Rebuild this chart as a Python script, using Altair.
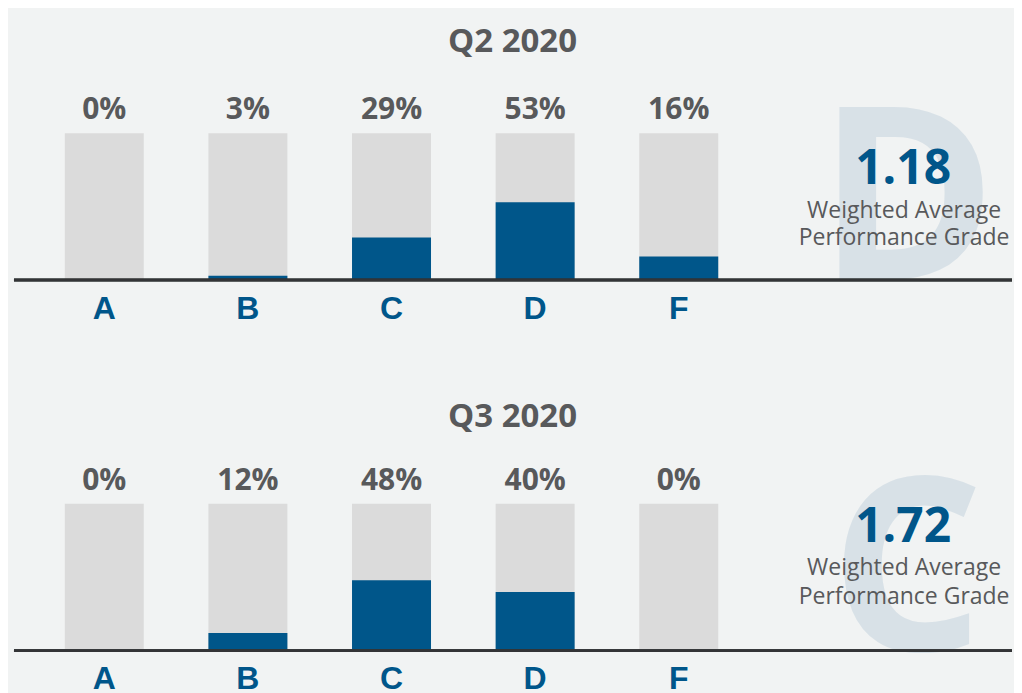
import altair as alt
import pandas as pd

# ---- data ----
grades = ["A", "B", "C", "D", "F"]
q2_pct = [0, 3, 29, 53, 16]
q3_pct = [0, 12, 48, 40, 0]
panel_titles = ["Q2 2020", "Q3 2020"]
avg_values = ["1.18", "1.72"]
avg_letters = ["D", "C"]
caption_lines = ["Weighted Average", "Performance Grade"]

# ---- style ----
BG = "#f1f3f3"
BLUE = "#00568a"
GRAY_BAR = "#dbdbdb"
TEXT_GRAY = "#58595b"
BIG_LETTER = "#d8e1e7"
AXIS_LINE = "#333436"
FONT = "Open Sans"
W = 999
H = 147


def panel(title, pcts, letter, value, title_dy, value_y, cap_y):
    df = pd.DataFrame({
        "grade": grades,
        "pct": pcts,
        "full": [100] * len(grades),
        "label": [f"{p}%" for p in pcts],
    })
    base = alt.Chart(df)
    x = alt.X(
        "grade:N",
        sort=grades,
        scale=alt.Scale(domain=grades, range=[18.5, 737.3],
                        paddingInner=0.45, paddingOuter=0.225),
        axis=alt.Axis(title=None, labelAngle=0, domain=False, ticks=False,
                      labelFont="Liberation Sans", labelFontSize=32,
                      labelFontWeight="bold", labelColor=BLUE,
                      labelPadding=13),
    )
    yscale = alt.Scale(domain=[0, 100])

    big = alt.Chart(pd.DataFrame({"t": [letter]})).mark_text(
        font=FONT, fontSize=242, fontWeight="bold", color=BIG_LETTER,
        align="center", baseline="alphabetic",
    ).encode(x=alt.value(894), y=alt.value(H), text="t:N")

    gray = base.mark_bar(color=GRAY_BAR).encode(
        x=x, y=alt.Y("full:Q", scale=yscale, axis=None))
    blue = base.mark_bar(color=BLUE).encode(
        x=x, y=alt.Y("pct:Q", scale=yscale, axis=None))
    labels = base.mark_text(
        font=FONT, fontSize=30, fontWeight="bold", color=TEXT_GRAY,
        baseline="alphabetic", dy=-14,
    ).encode(x=x, y=alt.Y("full:Q", scale=yscale, axis=None), text="label:N")

    rule = base.mark_rule(color=AXIS_LINE, strokeWidth=2.5).encode(
        y=alt.datum(0), x=alt.value(0), x2=alt.value(W))

    ttl = alt.Chart(pd.DataFrame({"t": [title]})).mark_text(
        font=FONT, fontSize=33, fontWeight="bold", color=TEXT_GRAY,
        align="center", baseline="alphabetic",
    ).encode(x=alt.value(499), y=alt.value(title_dy), text="t:N")

    val = alt.Chart(pd.DataFrame({"t": [value]})).mark_text(
        font=FONT, fontSize=48, fontWeight="bold", color=BLUE,
        align="center", baseline="alphabetic",
    ).encode(x=alt.value(890), y=alt.value(value_y), text="t:N")

    cap = alt.Chart(pd.DataFrame({"t": caption_lines,
                                  "yy": cap_y})).mark_text(
        font=FONT, fontSize=23, color=TEXT_GRAY,
        align="center", baseline="alphabetic",
    ).encode(x=alt.value(891), y=alt.Y("yy:Q", scale=None), text="t:N")

    return alt.layer(big, gray, blue, labels, rule, ttl, val, cap).properties(
        width=W, height=H)


p1 = panel(panel_titles[0], q2_pct, avg_letters[0], avg_values[0],
           -81, 51, [85, 112])
p2 = panel(panel_titles[1], q3_pct, avg_letters[1], avg_values[1],
           -77, 38, [71, 100])

chart = alt.vconcat(p1, p2, spacing=224, bounds="flush").properties(
    background=BG,
    padding={"left": 4, "top": 18, "right": 0, "bottom": 0},
).configure_view(stroke=None)

chart.save("out.html", embed_options={"renderer": "svg", "actions": False})
